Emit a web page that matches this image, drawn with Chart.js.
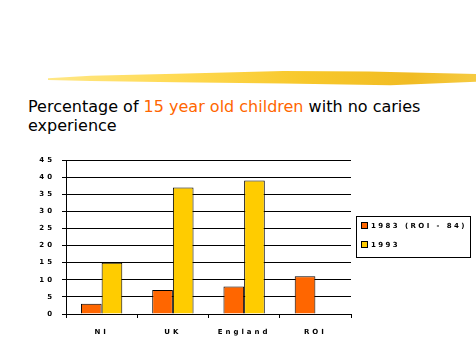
<!DOCTYPE html>
<html>
<head>
<meta charset="utf-8">
<script src="https://cdn.jsdelivr.net/npm/chart.js@4/dist/chart.umd.min.js"></script>
<style>
  html, body { margin: 0; padding: 0; background: #fff; }
  #wrap { position: relative; width: 476px; height: 356px; overflow: hidden; }
  #brush { position: absolute; left: 48px; top: 69px; width: 428px; height: 17px;
    background: linear-gradient(90deg, #ffe680 0%, #ffd84a 30%, #f7c520 60%, #f0b818 85%, #f5c838 100%);
    clip-path: polygon(0% 55%, 10% 40%, 30% 28%, 55% 12%, 75% 15%, 100% 30%, 100% 75%, 80% 95%, 55% 85%, 30% 78%, 10% 70%, 0% 65%);
    opacity: 0.95; }
  #title { position: absolute; left: 28px; top: 97px; font-family: "DejaVu Sans", Verdana, sans-serif;
    font-size: 16px; line-height: 19px; color: #000; width: 440px; }
  #title .hl { color: #ff6600; }
  #c { position: absolute; left: 0; top: 0; }
</style>
</head>
<body>
<div id="wrap">
  <div id="brush"></div>
  <div id="title">Percentage of <span class="hl">15 year old children</span> with no caries experience</div>
  <canvas id="c" width="476" height="356"></canvas>
</div>
<script>
const categories = ["NI", "UK", "England", "ROI"];
const series1983 = [3, 7, 8, 11];
const series1993 = [15, 37, 39, null];
const seriesLabels = ["1983 (ROI - 84)", "1993"];
const yTicks = [0, 5, 10, 15, 20, 25, 30, 35, 40, 45];

const tickFont = { family: "'DejaVu Sans', Arial, sans-serif", size: 7, weight: "bold" };

const spacingPlugin = {
  id: "spacing",
  beforeDraw(chart) { chart.ctx.letterSpacing = "3px"; },
  afterDraw(chart) {
    const ctx = chart.ctx;
    const x0 = 356, y0 = 216, w = 114, h = 41;
    ctx.save();
    ctx.letterSpacing = "2.4px";
    ctx.fillStyle = "#fff";
    ctx.fillRect(x0, y0, w, h);
    ctx.strokeStyle = "#000";
    ctx.lineWidth = 1;
    ctx.strokeRect(x0 + 0.5, y0 + 0.5, w, h);
    ctx.font = "bold 7px 'DejaVu Sans', Arial, sans-serif";
    ctx.textBaseline = "middle";
    chart.data.datasets.forEach((ds, i) => {
      const yy = y0 + 10 + i * 19;
      ctx.fillStyle = ds.backgroundColor;
      ctx.fillRect(x0 + 5, yy - 4, 7, 7);
      ctx.strokeRect(x0 + 5.5, yy - 3.5, 6, 6);
      ctx.fillStyle = "#000";
      ctx.fillText(ds.label, x0 + 15, yy);
    });
    ctx.restore();
    ctx.letterSpacing = "0px";
  }
};

new Chart(document.getElementById("c"), {
  type: "bar",
  data: {
    labels: categories,
    datasets: [
      { label: seriesLabels[0], data: series1983, backgroundColor: "#ff6600", borderColor: "#000", borderWidth: 1, borderSkipped: "bottom" },
      { label: seriesLabels[1], data: series1993, backgroundColor: "#ffcc00", borderColor: "#000", borderWidth: 1, borderSkipped: "bottom" }
    ]
  },
  options: {
    responsive: false,
    animation: false,
    events: [],
    layout: { padding: { left: 0, right: 125, top: 160, bottom: 0 } },
    plugins: { legend: { display: false }, tooltip: { enabled: false }, title: { display: false } },
    datasets: { bar: { categoryPercentage: 0.58, barPercentage: 1 } },
    scales: {
      x: {
        grid: { display: true, drawOnChartArea: false, color: "#000", tickLength: 4, offset: true },
        border: { color: "#000", width: 1 },
        ticks: { color: "#000", font: tickFont, padding: 10 },
        afterFit(s) { s.height = 42; }
      },
      y: {
        min: 0, max: 45,
        afterBuildTicks(s) { s.ticks = yTicks.map(v => ({ value: v })); },
        grid: { color: "#000", tickLength: 4, lineWidth: 1 },
        border: { color: "#000", width: 1 },
        ticks: { color: "#000", font: tickFont, padding: 7 },
        afterFit(s) { s.width = 66; }
      }
    }
  },
  plugins: [spacingPlugin]
});
</script>
</body>
</html>
